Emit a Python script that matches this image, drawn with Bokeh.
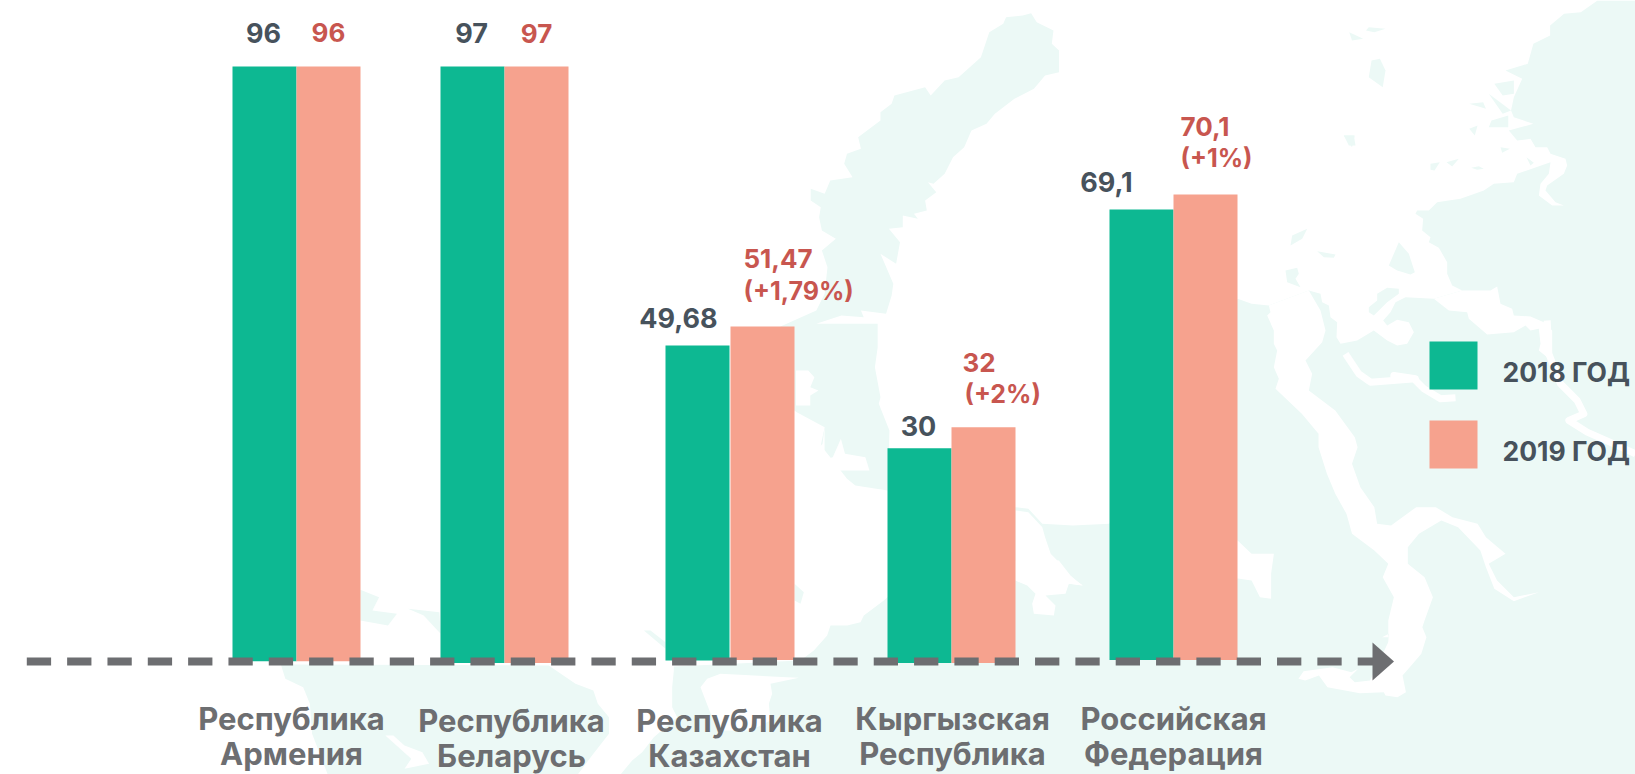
from bokeh.plotting import figure
from bokeh.models import Range1d
from bokeh.core.properties import value
from bokeh.embed import file_html
from bokeh.resources import INLINE

# ---------- data ----------
CAT_LINE1 = ["Республика", "Республика", "Республика", "Кыргызская", "Российская"]
CAT_LINE2 = ["Армения", "Беларусь", "Казахстан", "Республика", "Федерация"]
SERIES = ["2018 ГОД", "2019 ГОД"]
# Bar heights as drawn in the picture (the source chart is not strictly to scale)
BARS_2018 = [96.0, 96.0, 50.9, 34.3, 72.9]
BARS_2019 = [96.0, 96.0, 54.0, 37.7, 75.3]
BASE_2018 = [-0.1, -0.4, 0.0, -0.4, 0.1]
BASE_2019 = [-0.1, -0.4, 0.1, -0.4, 0.1]
LABELS_2018 = ["96", "97", "49,68", "30", "69,1"]
LABELS_2019 = ["96", "97", "51,47", "32", "70,1"]
CHANGE_2019 = ["", "", "(+1,79%)", "(+2%)", "(+1%)"]

# ---------- layout ----------
W, H = 1635, 774
X_2018 = [264, 472, 697, 919, 1141]
X_2019 = [328, 536, 762, 983, 1205]
BAR_W = 64
CAT_X = [291, 511, 729, 952, 1173]
CAT_Y1 = [718, 720, 720, 718, 718]
CAT_Y2 = [753, 755, 755, 753, 753]
L18_X = [263, 471, 678, 918, 1106]
L18_Y = [32, 32, 317, 425, 181]
L19_X = [328, 536, 743, 962, 1180]
L19_A = ["center", "center", "left", "left", "left"]
L19_Y = [32, 33, 258, 362, 126]
CH_X = [743, 964, 1180]
CH_Y = [290, 393, 157]
CH_IDX = [2, 3, 4]
GREEN, CORAL, DARK, RED, GREY, LAND = "#0DB892", "#F6A28E", "#47525C", "#C8564F", "#6D6E71", "#ECF9F6"
FONT = value("Inter")

# crop-coordinate helpers for the decorative background map
def z3(p): return [(1100 + x / 2.93, 600 + y / 3) for x, y in p]
def z4(p): return [(1380 + x / 3, 320 + y / 3) for x, y in p]
def z5(p): return [(620 + x / 2.45, 230 + y / 3) for x, y in p]
def z6(p): return [(760 + x / 1.792, y / 3) for x, y in p]
def z7(p): return [(760 + x / 1.792, 380 + y / 3) for x, y in p]
def z8(p): return [(200 + x / 2.24, 560 + y / 3) for x, y in p]
def z9(p): return [(600 + x / 3, 560 + y / 3) for x, y in p]
def z10(p): return [(1230 + x / 3, 130 + y / 3) for x, y in p]
def z2(p): return [(x / 2.24, 620 + y / 3) for x, y in p]

main_land = (
    [(1635, 0), (1635, 774)]
    + z9([(60, 642), (95, 600), (125, 575), (160, 530), (230, 470), (215, 440), (215, 380), (220, 330), (220, 318),
          (600, 300), (640, 270), (680, 225), (690, 195), (740, 195), (780, 185), (790, 165), (850, 120), (861, 110)])
    + z7([(457, 380), (480, 385), (505, 430), (560, 435), (625, 430)])
    + z6([(855, 895), (880, 910)])
    + z10([(115, 525), (235, 480), (270, 490), (275, 515), (295, 525), (300, 560), (320, 575), (318, 620), (330, 640),
           (380, 630), (430, 600), (470, 630), (500, 645), (530, 640), (550, 605), (535, 575), (500, 568), (470, 585),
           (458, 570), (480, 545), (495, 515), (525, 500), (610, 505), (695, 480), (665, 465), (650, 430), (650, 395),
           (625, 352), (595, 335), (600, 320), (575, 300), (578, 265), (555, 250), (560, 240), (595, 240), (620, 215),
           (690, 205), (760, 180), (790, 160), (850, 155), (860, 130), (960, 95), (955, 130), (930, 160), (925, 195),
           (965, 225), (1000, 225), (975, 215), (945, 180), (950, 165), (1000, 130), (1010, 105), (1005, 85), (960, 70),
           (950, 50), (915, 50), (900, 25), (860, 30), (835, 0)])
    + z6([(1385, 370), (1350, 350), (1345, 330), (1350, 290), (1365, 235), (1335, 210), (1375, 190), (1385, 130),
          (1415, 105), (1415, 75), (1440, 40), (1470, 35), (1500, 0)])
)
strip = (
    z6([(485, 38), (495, 65), (525, 90), (522, 130), (535, 150), (535, 215), (510, 225), (490, 265), (455, 295),
        (420, 340), (405, 370), (378, 390), (365, 440), (345, 470), (330, 520), (310, 550), (300, 545), (315, 575),
        (295, 600), (298, 630), (275, 640), (282, 655), (255, 645), (255, 680), (230, 685), (250, 725), (243, 790),
        (215, 760), (238, 850), (235, 885), (225, 940), (180, 930), (185, 950), (145, 945), (100, 970), (210, 970),
        (210, 1040), (205, 1100), (215, 1190)])
    + z7([(212, 70), (231, 150), (228, 330), (170, 315), (155, 295), (125, 230), (108, 195), (115, 140), (65, 95)])
    + [(780, 400), (780, 326)]
    + z6([(100, 930), (115, 880), (120, 800), (110, 750), (135, 715), (110, 690), (105, 650), (108, 620), (90, 600),
          (90, 565), (115, 580), (125, 540), (165, 530), (150, 490), (155, 460), (180, 445), (175, 410), (215, 360),
          (215, 335), (235, 310), (240, 285), (295, 260), (305, 285), (330, 240), (355, 230), (395, 170), (405, 120),
          (410, 95), (435, 70), (440, 50), (470, 45)])
)
other_land = [
    z8([(180, 312), (780, 315), (840, 370), (880, 390), (890, 430), (915, 470), (915, 520), (880, 580), (845, 642),
        (285, 642), (250, 520), (245, 430), (230, 380), (190, 355)]),
    z8([(358, 88), (400, 110), (385, 150), (440, 160), (420, 195), (358, 180)]),
    z8([(465, 145), (535, 155), (538, 220), (500, 165)]),
    z9([(130, 210), (150, 210), (195, 245), (195, 265)]),
    z9([(582, 70), (610, 95), (600, 130), (582, 120)]),
    z10([(180, 345), (185, 315), (230, 295), (215, 325)]),
    z10([(260, 362), (315, 372), (310, 382), (280, 380)]),
    z10([(165, 420), (200, 412), (205, 430), (195, 445), (210, 470), (170, 455)]),
    z10([(475, 405), (505, 335), (535, 370), (553, 425), (540, 432), (500, 420)]),
    z10([(440, 490), (470, 472), (505, 475), (505, 490), (470, 515), (430, 555), (415, 545), (415, 530), (440, 510)]),
    z10([(340, 15), (370, 15), (375, 45), (355, 45)]),
    z10([(600, 100), (628, 95), (612, 120), (600, 118)]),
    z10([(648, 95), (685, 85), (665, 108)]),
    z10([(722, 112), (745, 107), (760, 115), (740, 118)]),
    z10([(810, 50), (838, 55), (815, 67)]),
    z10([(888, 80), (910, 97), (900, 105)]),
    z6([(1090, 80), (1120, 85), (1100, 95), (1085, 90)]),
    z6([(1055, 95), (1080, 115), (1060, 120)]),
    z6([(1095, 180), (1110, 175), (1120, 210), (1115, 260), (1090, 230)]),
    z6([(1045, 405), (1065, 405), (1060, 440)]),
    z6([(1270, 310), (1295, 305), (1300, 325)]),
    z6([(1305, 280), (1345, 330), (1330, 340)]),
    z6([(1270, 385), (1285, 375), (1280, 405)]),
    z6([(1310, 360), (1340, 345), (1340, 380), (1305, 380)]),
    z6([(1315, 250), (1350, 240), (1350, 280), (1330, 285)]),
]
cuts = [
    # large white band with its eastern branch and the sea below the arrow
    z10([(115, 525), (120, 545), (110, 555), (130, 600), (130, 640), (140, 660), (130, 710), (145, 745), (135, 775)])
    + z7([(970, 100), (1000, 160), (1000, 200), (1015, 280), (1030, 340), (1050, 400), (1060, 460), (1100, 510),
          (1125, 550), (1115, 590), (1135, 650), (1125, 720), (1125, 770)])
    + z3([(825, 110), (845, 100), (843, 125), (790, 240), (745, 245), (730, 230), (755, 205), (735, 215), (680, 200),
          (595, 212), (580, 235), (600, 240), (640, 225), (665, 260), (760, 278), (830, 275), (835, 285), (870, 290),
          (895, 275), (885, 225), (915, 190), (940, 160), (955, 110), (943, 80)])
    + z7([(1190, 720), (1205, 650), (1190, 590), (1160, 550), (1160, 500), (1180, 460), (1220, 420), (1250, 440),
          (1290, 510), (1300, 560), (1315, 625), (1350, 662), (1395, 635), (1350, 650), (1320, 600), (1305, 550),
          (1335, 520), (1300, 470), (1285, 430), (1240, 410), (1210, 380), (1175, 380), (1130, 435), (1105, 430),
          (1100, 380), (1075, 320), (1060, 250), (1070, 200), (1065, 170), (1030, 90)])
    + z10([(235, 780), (245, 730), (225, 690), (275, 635), (285, 600), (270, 540), (235, 480)]),
    # wedge east of the last pair of bars
    z7([(840, 480), (855, 480), (880, 520), (920, 520), (915, 580), (915, 655), (895, 650), (880, 600), (840, 590)]),
    # channel across the north-east
    z10([(610, 505), (655, 540), (710, 545), (715, 565), (770, 612), (850, 605), (885, 585), (900, 600), (925, 595),
         (930, 640), (925, 660), (950, 680), (965, 660), (965, 600), (940, 575), (900, 558), (850, 555), (845, 535),
         (810, 520), (800, 468), (780, 480), (695, 480)]),
    # lakes
    z7([(457, 390), (480, 395), (505, 440), (510, 470), (520, 520), (535, 545), (548, 580), (578, 615), (555, 610),
        (530, 620), (490, 620), (457, 600)]),
    z9([(1245, 60), (1280, 75), (1305, 100), (1295, 130), (1300, 160), (1360, 165), (1365, 135), (1335, 105), (1395, 100),
        (1405, 70), (1445, 75), (1410, 45), (1375, 0), (1245, 0)]),
    z9([(300, 380), (320, 355), (360, 340), (560, 350), (595, 352), (510, 370), (515, 400), (505, 430), (510, 480),
        (450, 510), (350, 510)]),
    z2([(862, 345), (880, 345), (905, 375), (945, 395), (960, 430), (905, 445), (920, 415)]),
    z5([(430, 420), (460, 420), (475, 440), (465, 470), (485, 480), (465, 495), (465, 525), (430, 525)]),
    z5([(500, 590), (495, 640), (470, 670), (490, 690), (520, 680), (540, 625), (550, 670), (600, 680), (610, 720),
        (500, 720)]),
]
thin_white = [
    z10([(345, 670), (385, 730), (420, 755), (555, 745)]) + z4([(40, 165), (100, 175), (130, 205), (180, 235), (225, 232)]),
    z4([(500, 0), (505, 100), (540, 190), (590, 240), (610, 280), (565, 300), (620, 335), (700, 370), (765, 400)]),
]

p = figure(width=W, height=H, output_backend="svg", toolbar_location=None,
           x_range=Range1d(0, W), y_range=Range1d(-18.42, 106.67),
           min_border=0, border_fill_color=None, background_fill_color=None, outline_line_color=None)
p.xaxis.visible = False
p.yaxis.visible = False
p.grid.visible = False
p.extra_y_ranges = {"px": Range1d(H, 0)}

# background map
land = [main_land, strip] + other_land
p.patches([[q[0] for q in s] for s in land], [[q[1] for q in s] for s in land], y_range_name="px",
          fill_color=LAND, line_color=None)
p.patches([[q[0] for q in s] for s in cuts], [[q[1] for q in s] for s in cuts], y_range_name="px",
          fill_color="white", line_color=None)
p.multi_line([[q[0] for q in s] for s in thin_white], [[q[1] for q in s] for s in thin_white], y_range_name="px",
             line_color="white", line_width=7, line_join="round")

# bars
p.vbar(x=X_2018, width=BAR_W, top=BARS_2018, bottom=BASE_2018, fill_color=GREEN, line_color=None)
p.vbar(x=X_2019, width=BAR_W, top=BARS_2019, bottom=BASE_2019, fill_color=CORAL, line_color=None)

# dashed axis with arrow
dash_x0 = [26.3 + 40.33 * k for k in range(34)]
p.segment(x0=dash_x0, x1=[x + 24.3 for x in dash_x0], y0=[661] * 34, y1=[661] * 34, y_range_name="px",
          line_color=GREY, line_width=8, line_cap="butt")
p.patch([1372, 1393.5, 1372], [642, 661, 680], y_range_name="px", fill_color=GREY, line_color=None)

def txt(x, y, s, color, align="center", fs="26px"):
    p.text(x=x, y=y, text=s, y_range_name="px", text_color=color, text_font=FONT, text_font_style="bold",
           text_font_size=fs, text_align=align, text_baseline="middle")

txt(L18_X, L18_Y, LABELS_2018, DARK, fs="27px")
for a in ("center", "left"):
    idx = [i for i, v in enumerate(L19_A) if v == a]
    txt([L19_X[i] for i in idx], [L19_Y[i] for i in idx], [LABELS_2019[i] for i in idx], RED, a)
txt(CH_X, CH_Y, [CHANGE_2019[i] for i in CH_IDX], RED, "left", fs="25px")
txt(CAT_X, CAT_Y1, CAT_LINE1, GREY, fs="31px")
txt(CAT_X, CAT_Y2, CAT_LINE2, GREY, fs="31px")

# legend
p.quad(left=[1429, 1429], right=[1477, 1477], top=[341, 420], bottom=[389, 468], y_range_name="px",
       fill_color=[GREEN, CORAL], line_color=None)
txt([1502, 1502], [371, 450], SERIES, DARK, "left", fs="26.5px")

open("out.html", "w").write(file_html(p, INLINE))
